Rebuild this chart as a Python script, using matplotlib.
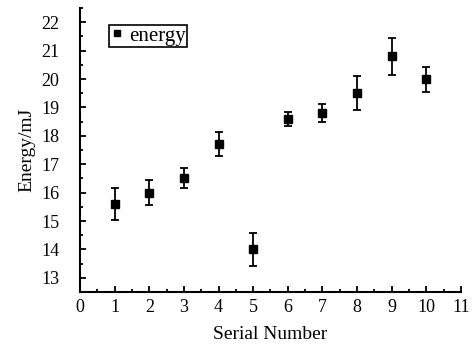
import matplotlib
matplotlib.use("Agg")
import matplotlib.pyplot as plt
from matplotlib.ticker import MultipleLocator
from matplotlib.lines import Line2D

serial = [1, 2, 3, 4, 5, 6, 7, 8, 9, 10]
energy = [15.6, 16.0, 16.5, 17.7, 14.0, 18.6, 18.8, 19.5, 20.8, 20.0]
err = [0.55, 0.43, 0.35, 0.42, 0.58, 0.25, 0.33, 0.6, 0.66, 0.44]

plt.rcParams['font.family'] = ['Liberation Serif', 'DejaVu Serif']
fig = plt.figure(figsize=(4.72, 3.45), dpi=100)
ax = fig.add_axes([0.1695, 0.1536, 0.807, 0.823])

ax.errorbar(serial, energy, yerr=err, fmt='s', color='black', ms=5.5,
            ecolor='black', elinewidth=1.3, capsize=3, capthick=1.3)

ax.set_xlim(0, 11)
ax.set_ylim(12.5, 22.5)
ax.xaxis.set_major_locator(MultipleLocator(1))
ax.xaxis.set_minor_locator(MultipleLocator(0.5))
ax.yaxis.set_minor_locator(MultipleLocator(0.5))
ax.set_yticks([13, 14, 15, 16, 17, 18, 19, 20, 21, 22])
ax.tick_params(which='both', direction='in', width=1.3, labelsize=13)
ax.tick_params(which='major', length=4)
ax.tick_params(which='minor', length=2)
ax.tick_params(axis='y', pad=15)
ax.tick_params(axis='x', pad=5)
for s in ['top', 'right']:
    ax.spines[s].set_visible(False)
for s in ['left', 'bottom']:
    ax.spines[s].set_linewidth(1.5)

ax.set_xlabel('Serial Number', fontsize=14, labelpad=7)
ax.set_ylabel('Energy/mJ', fontsize=14, labelpad=4)

handle = Line2D([], [], marker='s', linestyle='none', color='black', markersize=5)
leg = ax.legend([handle], ['energy'], loc='upper left', bbox_to_anchor=(0.077, 0.94),
                fontsize=15, frameon=True, fancybox=False, edgecolor='black',
                framealpha=1, handlelength=0.6, handletextpad=0.3, borderpad=0.05,
                borderaxespad=0)
leg.get_frame().set_linewidth(1.2)

fig.savefig('out.png', dpi=100)
